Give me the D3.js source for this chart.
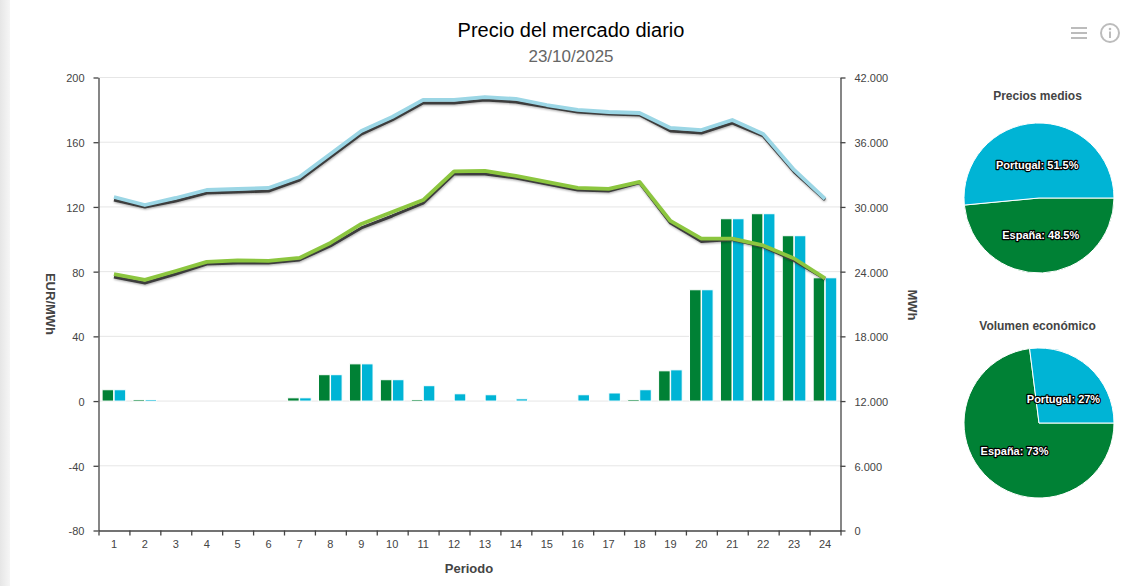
<!DOCTYPE html>
<html lang="es">
<head>
<meta charset="utf-8">
<title>Precio del mercado diario</title>
<script src="https://cdn.jsdelivr.net/npm/d3@7"></script>
<style>
  html, body { margin: 0; padding: 0; background: #fff; overflow: hidden; }
  svg { display: block; font-family: "Liberation Sans", Arial, sans-serif; }
  .axis path, .axis line { stroke: #444; stroke-width: 1.3; }
  .axis text { font-size: 11px; fill: #444; }
  .axis-title { font-size: 13px; font-weight: bold; fill: #444; text-anchor: middle; }
  .pie-title { font-size: 12px; font-weight: bold; fill: #444; text-anchor: middle; }
  .pie-label { font-size: 11px; font-weight: bold; fill: #fff; stroke: #000; stroke-width: 2.4px;
               stroke-linejoin: round; paint-order: stroke; text-anchor: middle; }
</style>
</head>
<body>
<div id="chart"></div>
<script>
// Hourly periods of the day-ahead session
const periods = d3.range(1, 25);

// Marginal price per zone, EUR/MWh
const priceSpain    = [7, 1, 0, 0, 0, 0, 2, 16.3, 23, 13.2, 1, 0, 0, 0, 0, 0, 0, 1, 18.7, 68.8, 112.7, 115.8, 102.2, 76.2];
const pricePortugal = [7, 1, 0, 0, 0, 0, 2, 16.3, 23, 13.2, 9.5, 4.5, 3.9, 1.4, 0, 3.9, 5, 7, 19.3, 68.8, 112.7, 115.8, 102.2, 76.2];

// Energy per hour, MWh
const energyBlue     = [30920, 30180, 30830, 31570, 31660, 31760, 32780, 34910, 37040, 38340, 39920, 39920, 40190, 40010, 39450, 38990, 38800, 38710, 37320, 37130, 38060, 36760, 33430, 30740];
const energyBlueDark = [30640, 29990, 30550, 31290, 31380, 31480, 32500, 34630, 36760, 38060, 39640, 39640, 39920, 39730, 39260, 38800, 38620, 38530, 37040, 36850, 37780, 36580, 33250, 30650];
const energyGreen     = [23780, 23230, 24060, 24900, 25040, 25000, 25270, 26660, 28420, 29530, 30640, 33290, 33340, 32870, 32320, 31760, 31670, 32320, 28700, 27070, 27070, 26430, 25220, 23370];
const energyGreenDark = [23500, 22950, 23780, 24700, 24800, 24800, 25080, 26380, 28050, 29160, 30360, 33060, 33060, 32690, 32130, 31570, 31480, 32230, 28510, 26800, 26980, 26330, 25040, 23330];

// Averages shown in the two pies
const zones = ["España", "Portugal"];
const avgPriceShare = [48.5, 51.5];
const econVolumeShare = [73, 27];

const priceTicks = [-80, -40, 0, 40, 80, 120, 160, 200];
const energyTicks = [0, 6000, 12000, 18000, 24000, 30000, 36000, 42000];

const colors = { spain: "#008135", portugal: "#00b4d5", lineBlue: "#9bd6e5", lineGreen: "#8cc63f", dark: "#3d3d3d" };

const width = 1145, height = 586;
const plot = { left: 98.5, right: 840.5, top: 77.5, bottom: 530.5 };

const svg = d3.select("#chart").append("svg").attr("width", width).attr("height", height);
const defs = svg.append("defs");

// Soft edge running down the left of the page
const edge = defs.append("linearGradient").attr("id", "page-edge");
edge.append("stop").attr("offset", "0%").attr("stop-color", "#e6e6e6");
edge.append("stop").attr("offset", "100%").attr("stop-color", "#f6f6f6");
svg.append("rect").attr("x", 0).attr("y", 0).attr("width", 10).attr("height", height).attr("fill", "url(#page-edge)");

// Blurred halo under the dark lines
defs.append("filter").attr("id", "line-shadow").attr("x", "-5%").attr("y", "-20%").attr("width", "110%").attr("height", "140%")
  .append("feDropShadow").attr("dx", 0.5).attr("dy", 1).attr("stdDeviation", 1).attr("flood-color", "#000").attr("flood-opacity", 0.35);

// Scales
const yPrice = d3.scaleLinear().domain([-80, 200]).range([plot.bottom, plot.top]);
const yEnergy = d3.scaleLinear().domain([0, 42000]).range([plot.bottom, plot.top]);
const xBand = d3.scaleBand().domain(periods).range([plot.left, plot.right]);
const xEdges = d3.scaleLinear().domain([0, 24]).range([plot.left, plot.right]);
const xZone = d3.scaleBand().domain(zones).range([3.6, 27.2]).paddingInner(0.04);

// Horizontal grid
svg.append("g").selectAll("line").data(priceTicks.slice(1)).join("line")
  .attr("x1", plot.left).attr("x2", plot.right)
  .attr("y1", d => yPrice(d)).attr("y2", d => yPrice(d))
  .attr("stroke", "#e6e6e6").attr("stroke-width", 1);

// Grouped price bars; the white outline cuts the zero line next to each bar
const barData = periods.flatMap((p, i) => [
  { period: p, zone: zones[0], value: priceSpain[i], color: colors.spain },
  { period: p, zone: zones[1], value: pricePortugal[i], color: colors.portugal }
]).filter(d => d.value > 0);

svg.append("g").selectAll("rect").data(barData).join("rect")
  .attr("x", d => xBand(d.period) + xZone(d.zone))
  .attr("width", xZone.bandwidth())
  .attr("y", d => yPrice(d.value))
  .attr("height", d => yPrice(0) - yPrice(d.value))
  .attr("fill", d => d.color)
  .attr("stroke", "#fff").attr("stroke-width", 1);

// Energy lines: each coloured curve sits above its dark companion
const energyLine = d3.line().x((d, i) => xBand(periods[i]) + xBand.bandwidth() / 2).y(d => yEnergy(d));
[
  { values: energyBlueDark, color: colors.dark, w: 3, shadow: true },
  { values: energyBlue, color: colors.lineBlue, w: 3.8, shadow: false },
  { values: energyGreenDark, color: colors.dark, w: 3, shadow: true },
  { values: energyGreen, color: colors.lineGreen, w: 3.8, shadow: false }
].forEach(s => {
  svg.append("path").datum(s.values)
    .attr("d", energyLine)
    .attr("fill", "none")
    .attr("stroke", s.color)
    .attr("stroke-width", s.w)
    .attr("stroke-linejoin", "round")
    .attr("filter", s.shadow ? "url(#line-shadow)" : null);
});

// Axes
const thousands = d3.formatLocale({ decimal: ",", thousands: ".", grouping: [3], currency: ["", " €"] }).format(",d");

const leftAxis = svg.append("g").attr("class", "axis").attr("transform", `translate(${plot.left},0)`)
  .call(d3.axisLeft(yPrice).tickValues(priceTicks).tickFormat(d => String(d)).tickSize(5).tickPadding(9).tickSizeOuter(0));
leftAxis.selectAll("text").attr("dy", "0.4em");

const rightAxis = svg.append("g").attr("class", "axis").attr("transform", `translate(${plot.right},0)`)
  .call(d3.axisRight(yEnergy).tickValues(energyTicks).tickFormat(d => d === 0 ? "0" : thousands(d)).tickSize(5).tickPadding(9).tickSizeOuter(0));
rightAxis.selectAll("text").attr("dy", "0.4em");

// Bottom axis: ticks on period boundaries, labels centred in each period
svg.append("g").attr("class", "axis").attr("transform", `translate(0,${plot.bottom})`)
  .call(d3.axisBottom(xEdges).ticks(24).tickSize(5).tickFormat("").tickSizeOuter(0));
const periodAxis = svg.append("g").attr("class", "axis").attr("transform", `translate(0,${plot.bottom})`)
  .call(d3.axisBottom(xBand).tickSize(0).tickPadding(10).tickSizeOuter(0));
periodAxis.select(".domain").remove();

svg.append("text").attr("class", "axis-title").attr("x", 469).attr("y", 573).text("Periodo");
svg.append("text").attr("class", "axis-title").attr("transform", "translate(46,304) rotate(90)").text("EUR/MWh");
svg.append("text").attr("class", "axis-title").attr("transform", "translate(908,305) rotate(90)").text("MWh");

// Titles
svg.append("text").attr("x", 571).attr("y", 37).attr("text-anchor", "middle")
  .attr("font-size", 20).attr("fill", "#000").text("Precio del mercado diario");
svg.append("text").attr("x", 571).attr("y", 62).attr("text-anchor", "middle")
  .attr("font-size", 17).attr("fill", "#666").text("23/10/2025");

// Share pies, starting at three o'clock and running clockwise
const pie = d3.pie().sort(null).startAngle(Math.PI / 2).endAngle(Math.PI * 2.5);
const pieArc = d3.arc().innerRadius(0).outerRadius(75);
const pieLabelArc = d3.arc().innerRadius(37).outerRadius(37);
const pieColor = d3.scaleOrdinal().domain(zones).range([colors.spain, colors.portugal]);

function drawPie(title, shares, cx, cy, titleY) {
  svg.append("text").attr("class", "pie-title").attr("x", cx - 1.5).attr("y", titleY).text(title);
  const g = svg.append("g").attr("transform", `translate(${cx},${cy})`);
  const slices = pie(shares).map((s, i) => ({ ...s, zone: zones[i], share: shares[i] }));
  g.selectAll("path").data(slices).join("path")
    .attr("d", pieArc)
    .attr("fill", d => pieColor(d.zone))
    .attr("stroke", "#fff").attr("stroke-width", 1);
  g.selectAll("text").data(slices).join("text")
    .attr("class", "pie-label")
    .attr("transform", d => {
      const [x, y] = pieLabelArc.centroid(d);
      return `translate(${x},${y + (d.zone === "Portugal" ? 8 : 4)})`;
    })
    .text(d => `${d.zone}: ${d.share}%`);
}
drawPie("Precios medios", avgPriceShare, 1039, 198, 100);
drawPie("Volumen económico", econVolumeShare, 1039, 423, 330);

// Toolbar icons
const iconColor = "#bcbcbc";
const menu = svg.append("g").attr("stroke", iconColor).attr("stroke-width", 2);
[28, 33, 38].forEach(y => menu.append("line").attr("x1", 1071).attr("x2", 1087).attr("y1", y).attr("y2", y));
const info = svg.append("g").attr("transform", "translate(1110,33)");
info.append("circle").attr("r", 9).attr("fill", "none").attr("stroke", iconColor).attr("stroke-width", 2);
info.append("circle").attr("cy", -4).attr("r", 1.3).attr("fill", iconColor);
info.append("line").attr("y1", -1.5).attr("y2", 5).attr("stroke", iconColor).attr("stroke-width", 2);
</script>
</body>
</html>
